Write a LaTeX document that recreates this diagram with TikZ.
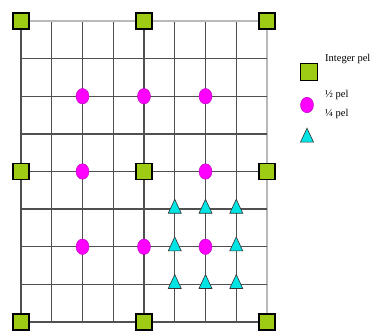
\documentclass[tikz,border=0pt]{standalone}
\usepackage{fontspec}
\setmainfont{Liberation Serif}
\usetikzlibrary{shapes.geometric}
\definecolor{pelgreen}{RGB}{158,204,20}
\definecolor{pelpink}{RGB}{255,0,255}
\definecolor{pelcyan}{RGB}{0,228,228}
\definecolor{gridc}{RGB}{80,80,80}
\tikzset{
  x=1pt,y=-1pt,
  gridline/.style={draw=gridc,line width=1.3pt},
  lightline/.style={draw=gray!55,line width=1.3pt},
  intpel/.style={draw=black,line width=1.1pt,fill=pelgreen,minimum size=16pt,inner sep=0pt,rectangle},
  halfpel/.style={draw=pelpink!70!black,line width=0.4pt,fill=pelpink,ellipse,minimum width=13pt,minimum height=15.5pt,inner sep=0pt},
  qpel/.style={draw=black!80,line width=0.6pt,fill=pelcyan,isosceles triangle,isosceles triangle apex angle=50,shape border rotate=90,minimum width=12.5pt,minimum height=14pt,inner sep=0pt},
  legtext/.style={anchor=west,font=\fontsize{10.5}{12}\selectfont,inner sep=0pt}
}
\begin{document}
\begin{tikzpicture}
\useasboundingbox (0,0) rectangle (379,331);
\fill[white] (0,0) rectangle (379,331);
\def\cx#1{21+30.75*#1}
\def\cy#1{21+37.625*#1}
% grid
\foreach \i in {0,...,7} {
  \draw[gridline] ({\cx{\i}},21) -- ({\cx{\i}},322);
}
\draw[lightline] ({\cx{8}},21) -- ({\cx{8}},322);
\draw[lightline] (21,21) -- (267,21);
\foreach \j in {1,...,8} {
  \draw[gridline] (21,{\cy{\j}}) -- (267,{\cy{\j}});
}
% integer pels
\foreach \i/\j in {0/0,4/0,8/0,0/4,4/4,8/4,0/8,4/8,8/8} {
  \node[intpel] (s\i\j) at ({\cx{\i}},{\cy{\j}}) {};
}
% half pels
\foreach \i/\j in {2/2,4/2,6/2,2/4,6/4,2/6,4/6,6/6} {
  \node[halfpel] (h\i\j) at ({\cx{\i}},{\cy{\j}}) {};
}
% quarter pels
\foreach \i/\j in {5/5,6/5,7/5,5/6,7/6,5/7,6/7,7/7} {
  \node[qpel] (q\i\j) at ({\cx{\i}},{\cy{\j}}) {};
}
% legend
\node[intpel,minimum size=17pt] (legint) at (309,72) {};
\node[halfpel] (leghalf) at (307,105) {};
\node[qpel] (legq) at (307,138) {};
\node[legtext] (tint) at (325,59) {Integer pel};
\node[legtext] (thalf) at (325,95) {½ pel};
\node[legtext] (tq) at (325,114) {¼ pel};
\end{tikzpicture}
\end{document}
